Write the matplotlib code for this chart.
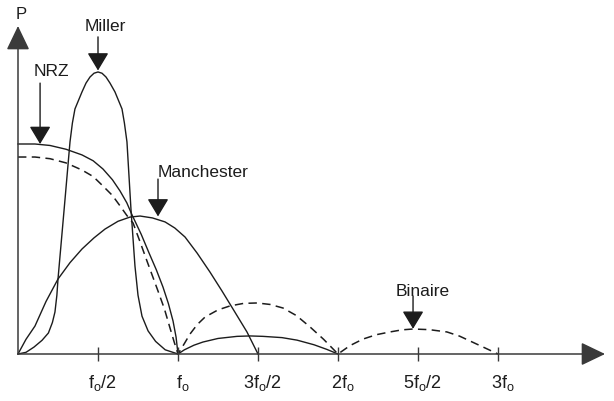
import numpy as np
import matplotlib
matplotlib.use("Agg")
import matplotlib.pyplot as plt

plt.rcParams['font.family'] = ['Liberation Sans', 'DejaVu Sans']
plt.rcParams['mathtext.fontset'] = 'custom'
plt.rcParams['mathtext.rm'] = 'Liberation Sans'
plt.rcParams['mathtext.it'] = 'Liberation Sans:italic'

# frequency in units of f0, power relative to the NRZ peak
nrz_x = [0, 0.106, 0.2, 0.3, 0.4, 0.47, 0.531, 0.59, 0.638, 0.68, 0.713, 0.77, 0.819,
         0.865, 0.906, 0.94, 0.969, 0.988, 1.0,
         1.04, 1.1, 1.156, 1.25, 1.369, 1.45, 1.531, 1.65, 1.744, 1.85, 1.93, 2.0]
nrz_y = [1.0, 1.0, 0.993, 0.975, 0.948, 0.92, 0.881, 0.83, 0.776, 0.72, 0.662, 0.57, 0.481,
         0.4, 0.319, 0.24, 0.157, 0.08, 0.0,
         0.02, 0.042, 0.057, 0.074, 0.084, 0.086, 0.084, 0.078, 0.066, 0.044, 0.022, 0.0]

binaire_x = [0, 0.106, 0.2, 0.3, 0.4, 0.47, 0.531, 0.59, 0.638, 0.68, 0.719, 0.76, 0.806,
             0.875, 0.915, 0.95, 0.975, 1.0,
             1.04, 1.075, 1.12, 1.169, 1.25, 1.325, 1.41, 1.494, 1.575, 1.656, 1.74,
             1.825, 1.91, 2.0,
             2.075, 2.156, 2.24, 2.325, 2.4, 2.469, 2.57, 2.681, 2.76, 2.825, 2.91, 3.0]
binaire_y = [0.938, 0.938, 0.93, 0.91, 0.876, 0.845, 0.8, 0.755, 0.705, 0.66, 0.624, 0.54, 0.443,
             0.3, 0.215, 0.124, 0.06, 0.0,
             0.05, 0.095, 0.14, 0.176, 0.21, 0.229, 0.241, 0.243, 0.236, 0.219, 0.183,
             0.129, 0.07, 0.0,
             0.04, 0.071, 0.092, 0.105, 0.115, 0.119, 0.116, 0.105, 0.085, 0.062, 0.032, 0.0]

miller_x = [0, 0.05, 0.1, 0.15, 0.19, 0.215, 0.231, 0.243, 0.25, 0.294, 0.325, 0.34, 0.356,
            0.4, 0.425, 0.45, 0.475, 0.5, 0.525, 0.55, 0.575, 0.606, 0.65, 0.665, 0.681,
            0.706, 0.731, 0.75, 0.775, 0.813, 0.86, 0.92, 1.0]
miller_y = [0, 0.008, 0.033, 0.065, 0.1, 0.15, 0.2, 0.28, 0.357, 0.738, 1.01, 1.1, 1.167,
            1.248, 1.29, 1.319, 1.337, 1.343, 1.337, 1.319, 1.29, 1.248, 1.167, 1.1, 1.01,
            0.69, 0.419, 0.28, 0.18, 0.11, 0.06, 0.02, 0]

manch_x = [0, 0.05, 0.106, 0.175, 0.25, 0.325, 0.4, 0.475, 0.544, 0.625, 0.7, 0.763,
           0.84, 0.919, 0.98, 1.044, 1.12, 1.2, 1.275, 1.344, 1.431, 1.5]
manch_y = [0, 0.07, 0.133, 0.25, 0.357, 0.435, 0.5, 0.553, 0.595, 0.632, 0.652, 0.657,
           0.648, 0.629, 0.6, 0.557, 0.48, 0.39, 0.3, 0.214, 0.105, 0]

tick_pos = [0.5, 1.0, 1.5, 2.0, 2.5, 3.0]
tick_labels = [r'$\mathregular{f_o/2}$', r'$\mathregular{f_o}$', r'$\mathregular{3f_o/2}$',
               r'$\mathregular{2f_o}$', r'$\mathregular{5f_o/2}$', r'$\mathregular{3f_o}$']

# name, text position, arrow start, arrow tip
callouts = [("Miller", (0.544, 1.562), (0.5, 1.51), (0.5, 1.35)),
            ("NRZ", (0.206, 1.348), (0.138, 1.29), (0.138, 1.0)),
            ("Manchester", (1.156, 0.871), (0.875, 0.833), (0.875, 0.655)),
            ("Binaire", (2.531, 0.3), (2.469, 0.276), (2.469, 0.12))]

fig = plt.figure(figsize=(6.14, 4.02), dpi=100)
ax = fig.add_axes([0, 0, 1, 1])
ax.set_xlim(-18 / 160, 596 / 160)
ax.set_ylim(-47 / 210, 355 / 210)
ax.axis('off')

ink = '#1c1c1c'
ax.plot(nrz_x, nrz_y, color=ink, lw=1.0, solid_joinstyle='round')
ax.plot(binaire_x, binaire_y, color=ink, lw=1.1, linestyle=(0, (5.5, 3.5)))
ax.plot(miller_x, miller_y, color=ink, lw=1.0, solid_joinstyle='round')
ax.plot(manch_x, manch_y, color=ink, lw=1.0, solid_joinstyle='round')

# axes with arrows
axis_col = '#3a3a3a'
ax.annotate('', xy=(3.669, 0), xytext=(0, 0),
            arrowprops=dict(arrowstyle='-|>,head_length=0.75,head_width=0.36',
                            mutation_scale=20, lw=1.1, color=axis_col, shrinkA=0, shrinkB=0))
ax.annotate('', xy=(0, 1.562), xytext=(0, 0),
            arrowprops=dict(arrowstyle='-|>,head_length=0.75,head_width=0.36',
                            mutation_scale=20, lw=1.1, color=axis_col, shrinkA=0, shrinkB=0))
ax.text(0.02, 1.62, 'P', fontsize=12, ha='center', va='center', color=ink)

ax.vlines(tick_pos, -0.033, 0.033, color=axis_col, lw=1.0)
for p, lab in zip(tick_pos, tick_labels):
    ax.text(p + 0.03, -0.135, lab, fontsize=13, ha='center', va='center', color=ink)

for name, txt, start, tip in callouts:
    ax.text(txt[0], txt[1], name, fontsize=12.5, ha='center', va='center', color=ink)
    ax.annotate('', xy=tip, xytext=start,
                arrowprops=dict(arrowstyle='-|>,head_length=1.0,head_width=0.6',
                                mutation_scale=11, lw=1.0, color=ink, shrinkA=0, shrinkB=0))

fig.savefig('out.png', dpi=100)
